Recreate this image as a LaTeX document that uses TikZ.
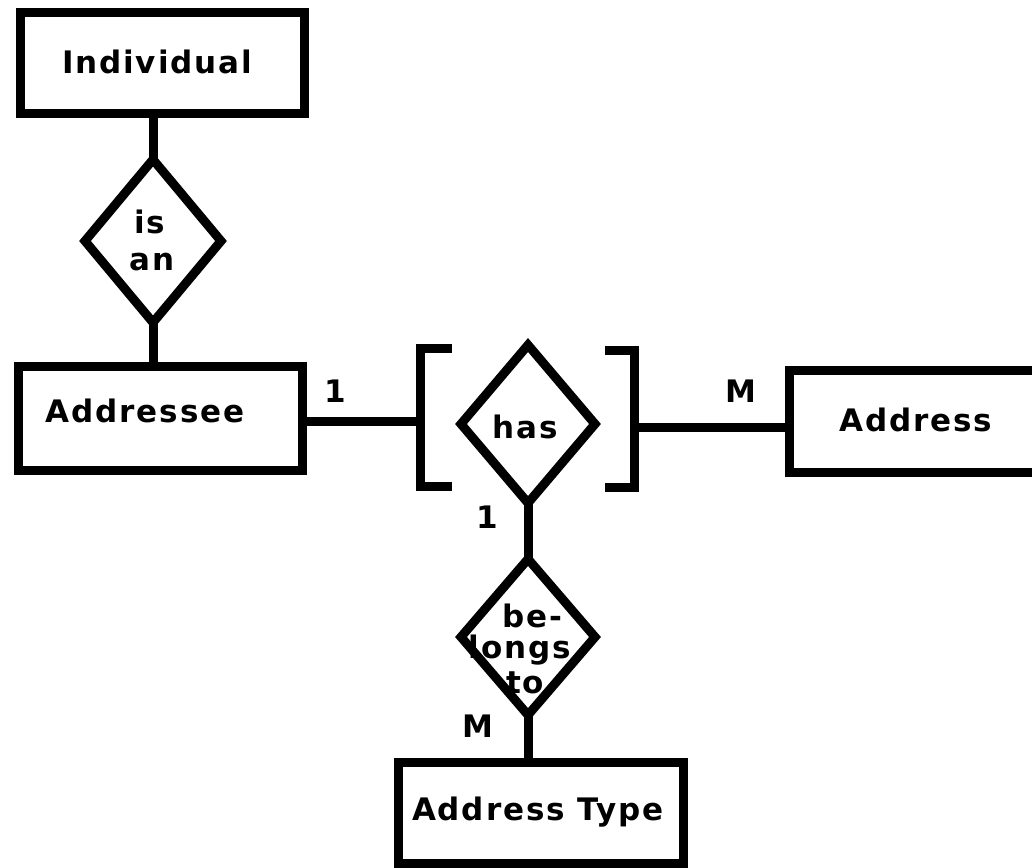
\documentclass[tikz,border=0pt]{standalone}
\usepackage{fontspec}
\setmainfont{DejaVu Sans}[LetterSpace=6]
\usetikzlibrary{shapes.geometric,calc}
\begin{document}
\begin{tikzpicture}[x=1pt,y=-1pt,
  lw/.style={line width=9pt},
  entity/.style={draw, lw, rectangle, inner sep=0pt, outer sep=0pt},
  rel/.style={draw, lw, diamond, inner sep=0pt, outer sep=0pt},
  lbl/.style={font=\bfseries\fontsize{31}{34}\selectfont, inner sep=0pt, anchor=base},
  conn/.style={lw}]
\useasboundingbox (0,0) rectangle (1032,867);
\clip (0,0) rectangle (1032,867);
% entities and relationships
\node[entity, minimum width=284pt, minimum height=101pt] (individual) at (162,63) {};
\node[lbl] (individualT) at (157,74) {Individual};
\node[rel, minimum width=136pt, minimum height=163pt] (isan) at (153,241) {};
\node[lbl] (isT) at (150,233) {is};
\node[lbl] (anT) at (152,270) {an};
\node[entity, minimum width=284pt, minimum height=104pt] (addressee) at (160,418) {};
\node[lbl] (addresseeT) at (145,422) {Addressee};
\node[rel, minimum width=134pt, minimum height=158pt] (has) at (528,424) {};
\node[lbl] (hasT) at (525,438) {has};
\node[entity, minimum width=261pt, minimum height=102pt] (address) at (919.5,421) {};
\node[lbl] (addressT) at (916,431) {Address};
\node[rel, minimum width=134pt, minimum height=156pt] (belongs) at (528,637) {};
\node[lbl] (beT) at (532,627) {be-};
\node[lbl] (longsT) at (520,658) {longs};
\node[lbl] (toT) at (525,693) {to};
\node[entity, minimum width=285pt, minimum height=101pt] (addrtype) at (540.5,812.5) {};
\node[lbl] (addrtypeT) at (538,820) {Address Type};
% cardinalities
\node[lbl] (c1) at (335,402) {1};
\node[lbl] (c2) at (741,402) {M};
\node[lbl] (c3) at (487,528) {1};
\node[lbl] (c4) at (478,737) {M};
% aggregation brackets
\coordinate (lbr) at (420,421);
\coordinate (rbr) at (634,427);
\draw[conn] (452,348) -- (420,348) -- (420,486) -- (452,486);
\draw[conn] (605,350) -- (634,350) -- (634,487) -- (605,487);
% connectors
\draw[conn] (isan.north |- individual.south) -- (isan.north);
\draw[conn] (isan.south) -- (isan.south |- addressee.north);
\draw[conn] (addressee.east |- lbr) -- (lbr);
\draw[conn] (rbr) -- (address.west |- rbr);
\draw[conn] (has.south) -- (belongs.north);
\draw[conn] (belongs.south) -- (belongs.south |- addrtype.north);
\end{tikzpicture}
\end{document}
